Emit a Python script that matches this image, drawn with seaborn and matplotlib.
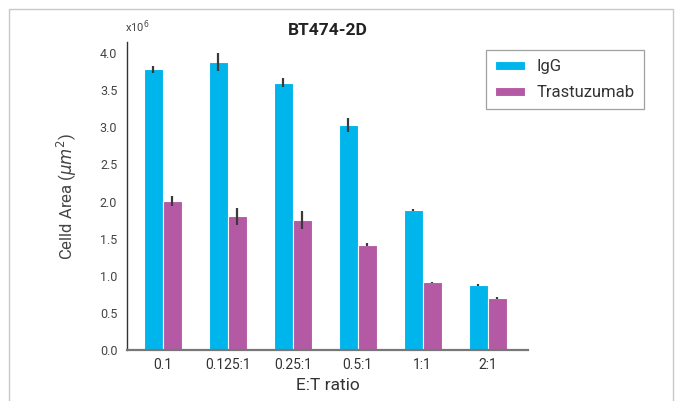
import matplotlib.pyplot as plt
import matplotlib.patches as mpatches
import pandas as pd
import seaborn as sb

# E:T ratios on the x axis and cell area (x10^6 um^2)
ratios = ["0.1", "0.125:1", "0.25:1", "0.5:1", "1:1", "2:1"]
igg_area = [3.78, 3.88, 3.60, 3.03, 1.89, 0.88]
igg_err = [0.05, 0.12, 0.06, 0.09, 0.015, 0.015]
trast_area = [2.01, 1.80, 1.75, 1.42, 0.91, 0.70]
trast_err = [0.07, 0.11, 0.12, 0.02, 0.01, 0.015]
groups = ["IgG", "Trastuzumab"]
colors = ["#00b4ec", "#b45aa5"]
yticks = [0.0, 0.5, 1.0, 1.5, 2.0, 2.5, 3.0, 3.5, 4.0]


def build_frame():
    #one row per bar so seaborn can split by hue
    df = pd.DataFrame({
        "ratio": ratios * 2,
        "group": [groups[0]] * len(ratios) + [groups[1]] * len(ratios),
        "area": igg_area + trast_area,
        "err": igg_err + trast_err,
    })
    return df


def show_report():
    sb.set_style("white")
    plt.rcParams["font.family"] = ["Roboto", "DejaVu Sans"]
    fig = plt.figure(figsize=(6.76, 4.01), dpi=100)
    ax = fig.add_axes([127 / 676, 51 / 401, 401 / 676, 308 / 401])

    df = build_frame()
    sb.barplot(data=df, x="ratio", y="area", hue="group", order=ratios,
               hue_order=groups, palette=colors, width=0.58, errorbar=None,
               edgecolor="white", linewidth=0.8, saturation=1, ax=ax)

    #error bars centred on each bar that seaborn drew
    for container, group in zip(ax.containers, groups):
        sub = df[df["group"] == group].set_index("ratio").loc[ratios]
        xs = [p.get_x() + p.get_width() / 2 for p in container.patches]
        ax.errorbar(xs, sub["area"].values, yerr=sub["err"].values, fmt="none",
                    ecolor="#3a3a3a", elinewidth=1.6, capsize=0, zorder=5)

    ax.set_xlim(-0.55, 5.62)
    ax.set_ylim(0, 4.15)
    ax.set_yticks(yticks)
    ax.set_yticklabels(["%.1f" % v for v in yticks], fontsize=9, color="#444444")
    ax.tick_params(axis="x", labelsize=10, colors="#333333", length=0, pad=6)
    ax.tick_params(axis="y", length=0, pad=7)
    for s in ["top", "right"]:
        ax.spines[s].set_visible(False)
    ax.spines["left"].set_color("#333333")
    ax.spines["bottom"].set_color("#777777")
    ax.spines["left"].set_linewidth(1.0)
    ax.spines["bottom"].set_linewidth(1.6)

    ax.set_xlabel("E:T ratio", fontsize=12.5, color="#333333", labelpad=4)
    ax.set_ylabel(r"Celld Area ($\mu m^2$)", fontsize=12, color="#444444", labelpad=15)
    ax.set_title("BT474-2D", fontsize=12.5, fontweight="bold", color="#222222", pad=5)
    fig.text(125 / 676, 1 - 27 / 401, r"x10$^6$", fontsize=8, color="#444444", va="center")

    leg = ax.legend(loc="upper right", bbox_to_anchor=(644 / 676, 1 - 50 / 401),
                    bbox_transform=fig.transFigure, fontsize=12, frameon=True,
                    fancybox=False, handlelength=1.8, handleheight=0.45,
                    borderpad=0.55, labelspacing=0.65, borderaxespad=0,
                    handletextpad=0.7)
    leg.get_frame().set_edgecolor("#888888")
    leg.get_frame().set_linewidth(0.9)
    for t in leg.get_texts():
        t.set_color("#333333")

    #light grey frame around the whole picture
    fig.patches.append(mpatches.Rectangle((9 / 676, -0.02), 664 / 676, 1 - 9 / 401 + 0.02,
                                          transform=fig.transFigure, fill=False,
                                          edgecolor="#c8c8c8", linewidth=1.0))
    fig.savefig("out.png", dpi=100)


if __name__ == '__main__':
    show_report()
